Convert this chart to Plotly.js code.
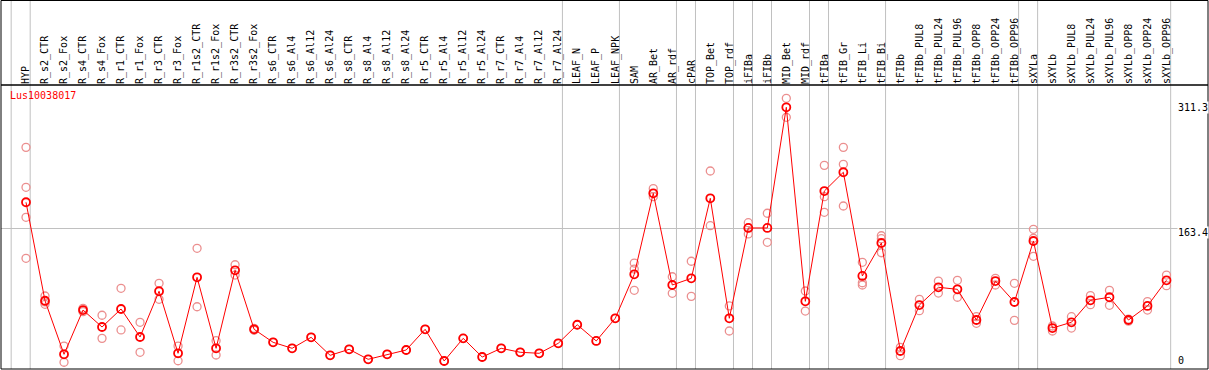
<!DOCTYPE html>
<html>
<head>
<meta charset="utf-8">
<script src="https://cdn.plot.ly/plotly-3.0.1.min.js"></script>
<style>
  html, body { margin: 0; padding: 0; background: #fff; }
  #chart { width: 1209px; height: 370px; }
</style>
</head>
<body>
<div id="chart"></div>
<script>
const geneName = 'Lus10038017';

const categories = [
  'HYP','R_s2_CTR','R_s2_Fox','R_s4_CTR','R_s4_Fox','R_r1_CTR','R_r1_Fox','R_r3_CTR','R_r3_Fox',
  'R_r1s2_CTR','R_r1s2_Fox','R_r3s2_CTR','R_r3s2_Fox','R_s6_CTR','R_s6_Al4','R_s6_Al12','R_s6_Al24',
  'R_s8_CTR','R_s8_Al4','R_s8_Al12','R_s8_Al24','R_r5_CTR','R_r5_Al4','R_r5_Al12','R_r5_Al24',
  'R_r7_CTR','R_r7_Al4','R_r7_Al12','R_r7_Al24','LEAF_N','LEAF_P','LEAF_NPK','SAM','AR_Bet','AR_rdf',
  'cPAR','TOP_Bet','TOP_rdf','iFIBa','iFIBb','MID_Bet','MID_rdf','tFIBa','tFIB_Gr','tFIB_Li','tFIB_Bi',
  'tFIBb','tFIBb_PUL8','tFIBb_PUL24','tFIBb_PUL96','tFIBb_OPP8','tFIBb_OPP24','tFIBb_OPP96',
  'sXYLa','sXYLb','sXYLb_PUL8','sXYLb_PUL24','sXYLb_PUL96','sXYLb_OPP8','sXYLb_OPP24','sXYLb_OPP96'
];

const meanValues = [
  194.2, 77.7, 14.3, 66.7, 46.6, 67.9, 34.8, 88.9, 15.5,
  105.4, 21.4, 113.7, 43.9, 28.5, 21.4, 34.4, 13.1,
  20.2, 8.4, 14.3, 19.4, 43.9, 6.4, 33.2, 11.1,
  21.4, 16.7, 15.5, 27.3, 49.3, 30.1, 56.9, 109.0, 204.8, 96.3,
  104.2, 198.9, 56.9, 163.8, 163.8, 306.6, 77.0, 207.5, 229.7, 107.0, 146.0,
  18.2, 72.6, 93.6, 91.2, 54.9, 101.0, 76.2,
  148.4, 45.4, 52.2, 78.2, 81.8, 54.9, 71.5, 101.9
];

// individual replicates (null = no replicate)
const rep1 = [
  259.2, 83.3, 24.1, 68.7, 60.5, 92.4, 52.2, 98.3, 24.1,
  139.7, 30.4, 120.3, 45.0, 28.5, 21.4, 34.4, 13.1,
  20.2, 8.4, 14.3, 19.4, 43.9, 6.4, 33.2, 11.1,
  21.4, 16.7, 15.5, 27.3, 49.3, 30.1, 56.9, 122.3, 210.3, 106.1,
  124.4, 231.2, 71.5, 170.0, 181.2, 317.2, 89.2, 237.9, 259.2, 123.2, 154.6,
  22.6, 79.4, 101.0, 101.9, 58.8, 104.2, 98.3,
  162.2, 47.8, 58.8, 83.7, 90.0, 56.0, 76.6, 108.1
];
const rep2 = [
  211.9, 76.3, 4.9, 64.7, 33.2, 43.1, 16.7, 79.4, 6.7,
  70.6, 13.5, 108.1, 42.8, null, null, null, null,
  null, null, null, null, null, null, null, null,
  null, null, null, null, null, null, null, 115.2, 200.8, 86.5,
  82.9, 166.5, 41.9, 163.8, 146.8, 294.7, 65.5, 200.8, 239.1, 99.0, 151.1,
  12.7, 65.9, 86.8, 81.8, 51.0, 96.3, 54.5,
  151.6, 41.9, 45.4, 73.0, 72.3, 53.5, 66.7, 95.5
];
const rep3 = [
  176.4, 73.5, null, null, null, null, null, null, null,
  null, null, null, null, null, null, null, null,
  null, null, null, null, null, null, null, null,
  null, null, null, null, null, null, null, 90.0, null, null,
  null, null, null, 156.7, null, null, null, 182.3, 189.8, 96.3, 134.5,
  null, null, null, null, null, null, null,
  130.3, null, null, null, null, null, null, null
];
const rep4 = [
  127.9, null, null, null, null, null, null, null, null,
  null, null, null, null, null, null, null, null,
  null, null, null, null, null, null, null, null,
  null, null, null, null, null, null, null, null, null, null,
  null, null, null, null, null, null, null, null, null, null, null,
  null, null, null, null, null, null, null,
  null, null, null, null, null, null, null, null
];

// indices of categories after which a group separator line is drawn (-1 = before the first)
const groupEnds = [-1, 0, 28, 31, 34, 35, 37, 38, 39, 41, 42, 45, 52, 53, 60];

const yTickValues = [0, 163.4, 311.3];
const yTickLabels = ['0', '163.4', '311.3'];
const yGridValues = [163.4];

// ---------- build traces ----------
const repX = [], repY = [];
[rep1, rep2, rep3, rep4].forEach(function (arr) {
  arr.forEach(function (v, i) {
    if (v !== null) { repX.push(categories[i]); repY.push(v); }
  });
});

const font = 'DejaVu Sans Mono, monospace';

const traceReps = {
  type: 'scatter', mode: 'markers',
  x: repX, y: repY,
  marker: { symbol: 'circle-open', size: 8, color: '#eb8f8f', line: { width: 1.3, color: '#eb8f8f' } },
  hoverinfo: 'skip', showlegend: false, cliponaxis: false
};
const traceMean = {
  type: 'scatter', mode: 'lines+markers',
  x: categories, y: meanValues,
  line: { color: '#ff0000', width: 1 },
  marker: { symbol: 'circle-open', size: 8, color: '#ff0000', line: { width: 1.8, color: '#ff0000' } },
  showlegend: false, cliponaxis: false
};

const mL = 1, mR = 1, mT = 85, mB = 1, W = 1209, H = 370;
const plotH = H - mT - mB;
const plotW = W - mL - mR;

const shapes = [];
groupEnds.forEach(function (g) {
  shapes.push({
    type: 'line', xref: 'x', yref: 'paper',
    x0: g + 0.22, x1: g + 0.22, y0: 0, y1: 1 + mT / plotH,
    line: { color: '#c0c0c0', width: 1 }, layer: 'below'
  });
});
// outer frame and header separator
shapes.push({ type: 'rect', xref: 'paper', yref: 'paper', x0: 0, x1: 1, y0: 0, y1: 1 + (mT - 0.5) / plotH,
  line: { color: '#000', width: 1 }, fillcolor: 'rgba(0,0,0,0)', layer: 'above' });
shapes.push({ type: 'line', xref: 'paper', yref: 'paper', x0: 0, x1: 1, y0: 1, y1: 1,
  line: { color: '#000', width: 1.5 }, layer: 'above' });

const annotations = yTickValues.map(function (v, i) {
  return {
    xref: 'paper', yref: 'y', x: (1177 - mL) / plotW, y: v, text: yTickLabels[i],
    xanchor: 'left', yanchor: v === 0 ? 'bottom' : 'top',
    xshift: 0, yshift: v === 0 ? -1 : 2,
    showarrow: false, bgcolor: '#ffffff', borderpad: 0,
    font: { family: font, size: 10, color: '#000' }
  };
});

const layout = {
  width: W, height: H,
  margin: { l: mL, r: mR, t: mT, b: mB, pad: 0 },
  paper_bgcolor: '#fff', plot_bgcolor: '#fff',
  title: {
    text: geneName, xref: 'container', yref: 'container',
    x: 10 / W, xanchor: 'left', y: 1 - 92 / H, yanchor: 'top',
    font: { family: font, size: 10, color: '#ff0000' }
  },
  xaxis: {
    type: 'category', side: 'top', range: [-1.3152, 62.184],
    tickangle: -90, ticks: '', showgrid: false, zeroline: false, showline: false,
    tickfont: { family: font, size: 10, color: '#000' }, automargin: false, fixedrange: true
  },
  yaxis: {
    range: [-3.08, 332.96], tickvals: yGridValues, showticklabels: false,
    showgrid: true, gridcolor: '#c0c0c0', gridwidth: 1,
    zeroline: false, showline: false, ticks: '', fixedrange: true
  },
  shapes: shapes,
  annotations: annotations,
  showlegend: false
};

Plotly.newPlot('chart', [traceReps, traceMean], layout, { staticPlot: true, displayModeBar: false });
</script>
</body>
</html>
